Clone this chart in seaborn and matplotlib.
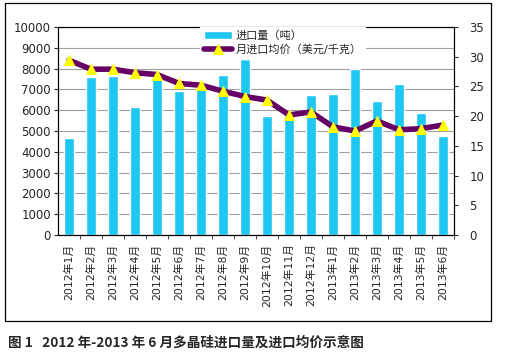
import numpy as np
import pandas as pd
import matplotlib
matplotlib.use('Agg')
import matplotlib.pyplot as plt
import seaborn as sns
from matplotlib.patches import Rectangle

sns.set_style('white')
plt.rcParams['font.family'] = ['DejaVu Sans', 'Noto Sans CJK SC']
plt.rcParams['axes.unicode_minus'] = False

months = ['2012年1月', '2012年2月', '2012年3月', '2012年4月', '2012年5月', '2012年6月',
          '2012年7月', '2012年8月', '2012年9月', '2012年10月', '2012年11月', '2012年12月',
          '2013年1月', '2013年2月', '2013年3月', '2013年4月', '2013年5月', '2013年6月']
volume = [4670, 7600, 7650, 6160, 7520, 6930, 7040, 7680, 8460,
          5730, 5800, 6720, 6770, 7970, 6450, 7250, 5860, 4750]
price = [29.4, 27.9, 27.9, 27.3, 27.0, 25.5, 25.2, 24.2, 23.3,
         22.7, 20.2, 20.7, 18.2, 17.5, 19.2, 17.7, 17.9, 18.5]

df = pd.DataFrame({'month': months, 'volume': volume, 'price': price, 'pos': np.arange(len(months))})

fig = plt.figure(figsize=(5.25, 3.54), dpi=100)
ax = fig.add_axes([58 / 525, 1 - 235 / 354, (454 - 58) / 525, (235 - 27) / 354])

ax.set_axisbelow(True)
ax.yaxis.grid(True, color='#a0a0a0', linewidth=0.8)
sns.barplot(data=df, x='month', y='volume', color='#1ec6f2', saturation=1,
            width=0.42, ax=ax, label='进口量（吨）')
ax.set_ylim(0, 10000)
ax.set_yticks(np.arange(0, 10001, 1000))
ax.set_xlim(-0.5, len(months) - 0.5)
ax.set_xlabel('')
ax.set_ylabel('')
ax.tick_params(axis='y', labelsize=8.5, length=3, direction='out', left=True, pad=2)
ax.tick_params(axis='x', which='major', labelsize=7.8, rotation=90, length=0, pad=6)
ax.set_xticks(np.arange(len(months)) + 0.5, minor=True)
ax.tick_params(axis='x', which='minor', length=3, direction='out', bottom=True)
for s in ax.spines.values():
    s.set_color('black')
    s.set_linewidth(0.8)

ax2 = ax.twinx()
sns.lineplot(data=df, x='pos', y='price', ax=ax2, color='#660066', linewidth=4,
             marker='^', markersize=6.5, markerfacecolor='#ffff00', markeredgecolor='#ffff00',
             label='月进口均价（美元/千克）')
ax2.set_ylim(0, 35)
ax2.set_yticks(np.arange(0, 36, 5))
ax2.set_xlim(-0.5, len(months) - 0.5)
ax2.set_ylabel('')
ax2.set_xlabel('')
ax2.tick_params(axis='y', labelsize=8.5, length=3, direction='out', right=True, pad=8)
for s in ax2.spines.values():
    s.set_color('black')
    s.set_linewidth(0.8)

h1, l1 = ax.get_legend_handles_labels()
h2, l2 = ax2.get_legend_handles_labels()
if ax.get_legend():
    ax.get_legend().remove()
ax2.get_legend().remove()
leg = ax2.legend(h1 + h2, l1 + l2, loc='upper left', bbox_to_anchor=(0.345, 1.025),
                 frameon=True, fancybox=False, edgecolor='white', framealpha=1,
                 fontsize=8, handlelength=2.6, labelspacing=0.3, borderpad=0.3,
                 handletextpad=0.3)

fig.patches.append(Rectangle((5 / 525, 1 - 321 / 354), 486 / 525, 318 / 354,
                             transform=fig.transFigure, fill=False, edgecolor='black',
                             linewidth=0.9))
fig.text(8 / 525, 1 - 343 / 354, '图 1   2012 年-2013 年 6 月多晶硅进口量及进口均价示意图',
         family=['Noto Sans CJK SC'], fontweight='bold', fontsize=9.8, va='center', ha='left')

fig.savefig('out.png', dpi=100)
